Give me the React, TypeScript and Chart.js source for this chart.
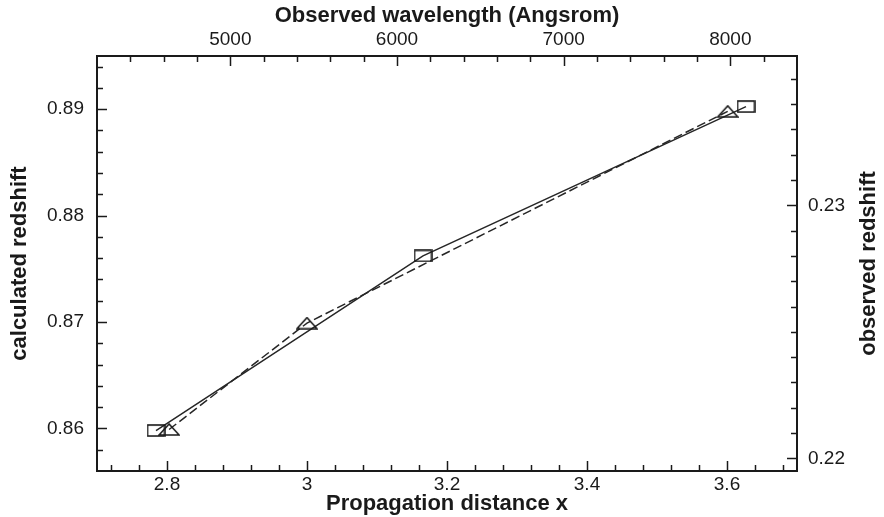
import React, { useEffect, useRef } from "react";
import { Chart, registerables } from "chart.js";

Chart.register(...registerables);

// Triangles: propagation distance (bottom axis) vs calculated redshift (left axis)
const propagationDistance = [2.803, 3.0, 3.601];
const calculatedRedshift = [0.8599, 0.8699, 0.8898];

// Squares: observed wavelength (top axis) vs observed redshift (right axis)
const observedWavelength = [4554, 6156, 8094];
const observedRedshift = [0.2211, 0.228, 0.2339];

const bottomTicks = [2.8, 3, 3.2, 3.4, 3.6];
const bottomTickLabels = ["2.8", "3", "3.2", "3.4", "3.6"];
const topTicks = [5000, 6000, 7000, 8000];
const topTickLabels = ["5000", "6000", "7000", "8000"];
const leftTicks = [0.86, 0.87, 0.88, 0.89];
const leftTickLabels = ["0.86", "0.87", "0.88", "0.89"];
const rightTicks = [0.22, 0.23];
const rightTickLabels = ["0.22", "0.23"];

const rightTitle = "observed redshift";

const minorSteps: Record<string, number> = { x: 0.04, x2: 200, y: 0.002, y2: 0.001 };
const majorTicks: Record<string, number[]> = { x: bottomTicks, x2: topTicks, y: leftTicks, y2: rightTicks };

const INK = "#1a1a1a";
const FAMILY = "'Liberation Sans', Arial, Helvetica, sans-serif";
const TICK_FONT = { family: FAMILY, size: 19 };
const TITLE_FONT = { family: FAMILY, size: 22, weight: "bold" as const };

function makeRect(w: number, h: number) {
  const c = document.createElement("canvas");
  c.width = w + 2;
  c.height = h + 2;
  const ctx = c.getContext("2d")!;
  ctx.strokeStyle = INK;
  ctx.lineWidth = 1.6;
  ctx.strokeRect(1, 1, w, h);
  return c;
}

function makeTriangle(w: number, h: number) {
  const c = document.createElement("canvas");
  c.width = w + 2;
  c.height = h + 2;
  const ctx = c.getContext("2d")!;
  ctx.strokeStyle = INK;
  ctx.lineWidth = 1.6;
  ctx.lineJoin = "miter";
  ctx.beginPath();
  ctx.moveTo(1, h + 1);
  ctx.lineTo(w / 2 + 1, 1);
  ctx.lineTo(w + 1, h + 1);
  ctx.closePath();
  ctx.stroke();
  return c;
}

const innerTicks = {
  id: "innerTicks",
  afterDraw(chart: any) {
    const ctx = chart.ctx;
    const a = chart.chartArea;
    ctx.save();
    ctx.strokeStyle = INK;
    ctx.lineWidth = 1.5;
    for (const id of ["x", "x2", "y", "y2"]) {
      const s = chart.scales[id];
      const step = minorSteps[id];
      const k0 = Math.ceil(s.min / step - 1e-6);
      const k1 = Math.floor(s.max / step + 1e-6);
      for (let k = k0; k <= k1; k++) {
        const v = k * step;
        if (Math.abs(v - s.min) < step / 10 || Math.abs(v - s.max) < step / 10) continue;
        const major = majorTicks[id].some((m) => Math.abs(m - v) < step / 10);
        const len = major ? 10 : 6;
        const p = Math.round(s.getPixelForValue(v)) + 0.5;
        ctx.beginPath();
        if (id === "x") {
          ctx.moveTo(p, a.bottom);
          ctx.lineTo(p, a.bottom - len);
        } else if (id === "x2") {
          ctx.moveTo(p, a.top);
          ctx.lineTo(p, a.top + len);
        } else if (id === "y") {
          ctx.moveTo(a.left, p);
          ctx.lineTo(a.left + len, p);
        } else {
          ctx.moveTo(a.right, p);
          ctx.lineTo(a.right - len, p);
        }
        ctx.stroke();
      }
    }
    // right axis title, reading bottom-to-top like the left one
    ctx.fillStyle = INK;
    ctx.font = `bold ${TITLE_FONT.size}px ${FAMILY}`;
    ctx.textAlign = "center";
    ctx.textBaseline = "middle";
    ctx.translate(869, (a.top + a.bottom) / 2);
    ctx.rotate(-Math.PI / 2);
    ctx.fillText(rightTitle, 0, 0);
    ctx.restore();
  },
};

function labelFrom(values: number[], labels: string[]) {
  return (v: any) => {
    const i = values.findIndex((m) => Math.abs(m - Number(v)) < 1e-9);
    return i >= 0 ? labels[i] : "";
  };
}

export default function App() {
  const ref = useRef<HTMLCanvasElement>(null);

  useEffect(() => {
    document.body.style.margin = "0";
    const rect = makeRect(17, 11);
    const tri = makeTriangle(20, 11);

    const border = { display: true, color: INK, width: 2 };
    const grid = { display: false, drawTicks: false };

    const chart = new Chart(ref.current!, {
      type: "scatter",
      data: {
        datasets: [
          {
            label: "calculated",
            data: propagationDistance.map((x, i) => ({ x, y: calculatedRedshift[i] })),
            xAxisID: "x",
            yAxisID: "y",
            showLine: true,
            borderColor: "#262626",
            borderWidth: 1.5,
            borderDash: [9, 4],
            pointStyle: tri as any,
            pointRadius: 8,
            backgroundColor: "transparent",
          },
          {
            label: "observed",
            data: observedWavelength.map((x, i) => ({ x, y: observedRedshift[i] })),
            xAxisID: "x2",
            yAxisID: "y2",
            showLine: true,
            borderColor: "#262626",
            borderWidth: 1.5,
            pointStyle: rect as any,
            pointRadius: 8,
            backgroundColor: "transparent",
          },
        ],
      },
      options: {
        animation: false,
        responsive: true,
        maintainAspectRatio: false,
        layout: { padding: 0 },
        plugins: { legend: { display: false }, tooltip: { enabled: false } },
        scales: {
          x: {
            type: "linear",
            position: "bottom",
            min: 2.7,
            max: 3.7,
            grid,
            border,
            afterBuildTicks: (s: any) => {
              s.ticks = bottomTicks.map((value) => ({ value }));
            },
            afterFit: (s: any) => {
              s.height = 46;
            },
            ticks: {
              font: TICK_FONT,
              color: INK,
              padding: 2,
              maxRotation: 0,
              autoSkip: false,
              callback: labelFrom(bottomTicks, bottomTickLabels),
            },
            title: {
              display: true,
              text: "Propagation distance x",
              font: TITLE_FONT,
              color: INK,
              padding: { top: 0, bottom: 0 },
            },
          },
          x2: {
            type: "linear",
            position: "top",
            min: 4200,
            max: 8400,
            grid,
            border,
            afterBuildTicks: (s: any) => {
              s.ticks = topTicks.map((value) => ({ value }));
            },
            afterFit: (s: any) => {
              s.height = 56;
            },
            ticks: {
              font: TICK_FONT,
              color: INK,
              padding: 5,
              maxRotation: 0,
              autoSkip: false,
              callback: labelFrom(topTicks, topTickLabels),
            },
            title: {
              display: true,
              text: "Observed wavelength (Angsrom)",
              font: TITLE_FONT,
              color: INK,
              padding: { top: 3, bottom: 0 },
            },
          },
          y: {
            type: "linear",
            position: "left",
            min: 0.856,
            max: 0.895,
            grid,
            border,
            afterBuildTicks: (s: any) => {
              s.ticks = leftTicks.map((value) => ({ value }));
            },
            afterFit: (s: any) => {
              s.width = 97;
            },
            ticks: {
              font: TICK_FONT,
              color: INK,
              padding: 13,
              autoSkip: false,
              callback: labelFrom(leftTicks, leftTickLabels),
            },
            title: {
              display: true,
              text: "calculated redshift",
              font: TITLE_FONT,
              color: INK,
              padding: { top: 7, bottom: 0 },
            },
          },
          y2: {
            type: "linear",
            position: "right",
            min: 0.2195,
            max: 0.2359,
            grid,
            border,
            afterBuildTicks: (s: any) => {
              s.ticks = rightTicks.map((value) => ({ value }));
            },
            afterFit: (s: any) => {
              s.width = 87;
            },
            ticks: {
              font: TICK_FONT,
              color: INK,
              padding: 11,
              autoSkip: false,
              callback: labelFrom(rightTicks, rightTickLabels),
            },
            title: { display: false },
          },
        },
      },
      plugins: [innerTicks],
    });
    return () => chart.destroy();
  }, []);

  return (
    <div style={{ position: "fixed", left: 0, top: 0, width: 884, height: 517, background: "#fff" }}>
      <canvas ref={ref} />
    </div>
  );
}
